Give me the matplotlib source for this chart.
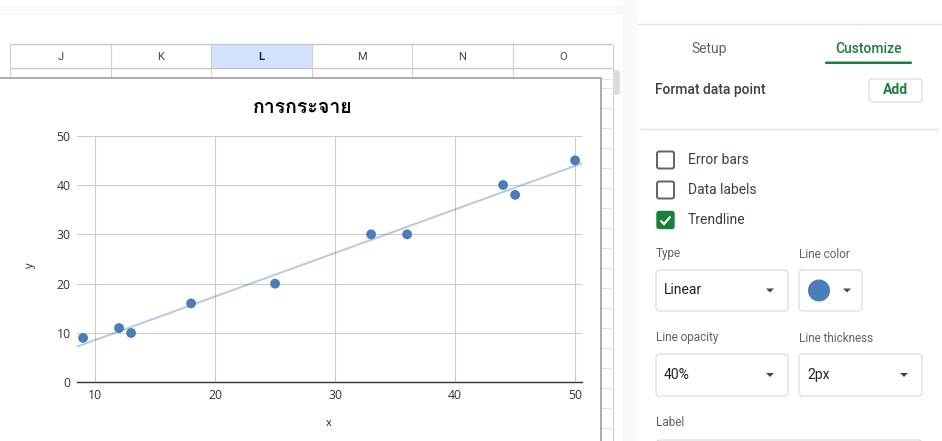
import numpy as np
import matplotlib
matplotlib.use("Agg")
import matplotlib.pyplot as plt
from matplotlib import font_manager
from matplotlib.ft2font import FT2Font
from matplotlib.patches import Rectangle, FancyBboxPatch, Circle, Polygon

# ---- data ----
x_vals = [9, 12, 13, 18, 25, 33, 36, 44, 45, 50]
y_vals = [9, 11, 10, 16, 20, 30, 30, 40, 38, 45]
x_ticks = [10, 20, 30, 40, 50]
y_ticks = [0, 10, 20, 30, 40, 50]
chart_title = "การกระจาย"
x_label = "x"
y_label = "y"

columns = ["J", "K", "L", "M", "N", "O"]
selected_column = "L"
tabs = ["Setup", "Customize"]
options = ["Error bars", "Data labels", "Trendline"]
checked = [False, False, True]
trend_type = "Linear"
trend_opacity = "40%"
trend_thickness = "2px"

W, H = 942, 441
BLUE = "#4a7ebb"
GREEN = "#188038"
TXT = "#3c4043"
SUB = "#5f6368"
BORDER = "#dadce0"


def thai_family():
    """Return an installed family that covers Thai letters, preferring bold faces."""
    best = None
    for fe in font_manager.fontManager.ttflist:
        try:
            cmap = FT2Font(fe.fname).get_charmap()
        except Exception:
            continue
        if all(ord(c) in cmap for c in chart_title):
            if best is None or (fe.weight in ("bold", 700) and best.weight not in ("bold", 700)):
                best = fe
    return best.name if best is not None else "DejaVu Sans"


THAI = thai_family()
UI = "Roboto"
CH = "Open Sans"

fig = plt.figure(figsize=(W / 100, H / 100), dpi=100)
fig.patch.set_facecolor("white")

# full-figure canvas in pixel units for the spreadsheet / sidebar
bg = fig.add_axes([0, 0, 1, 1], zorder=0)
bg.set_xlim(0, W)
bg.set_ylim(H, 0)
bg.axis("off")


def rect(x0, y0, x1, y1, fc="none", ec="none", lw=1.0, r=0, z=1):
    if r:
        p = FancyBboxPatch((x0, y0), x1 - x0, y1 - y0,
                           boxstyle=f"round,pad=0,rounding_size={r}",
                           fc=fc, ec=ec, lw=lw, zorder=z)
    else:
        p = Rectangle((x0, y0), x1 - x0, y1 - y0, fc=fc, ec=ec, lw=lw, zorder=z)
    bg.add_patch(p)


def hline(y, x0, x1, c, lw=0.8, z=2):
    bg.plot([x0, x1], [y, y], color=c, lw=lw, zorder=z, solid_capstyle="butt")


def vline(x, y0, y1, c, lw=0.8, z=2):
    bg.plot([x, x], [y0, y1], color=c, lw=lw, zorder=z, solid_capstyle="butt")


# top toolbar strip
rect(0, 5, 622, 15, fc="#f8f9fa")

# column header row
col_left, col_w = 10, 100.5
hline(44, col_left, 612, "#c7c7c7", lw=1.0)
hline(68, col_left, 612, "#c7c7c7", lw=1.0)
for i, name in enumerate(columns):
    x0 = col_left + i * col_w
    if name == selected_column:
        rect(x0, 44, x0 + col_w, 68, fc="#d3e3fd", z=1)
    vline(x0, 44, 79, "#d0d0d0", lw=0.8)
    bg.text(x0 + col_w / 2, 56.5, name, ha="center", va="center",
            fontsize=8, family=UI,
            color="#1f1f1f" if name == selected_column else "#444746",
            fontweight="bold" if name == selected_column else "normal", zorder=3)
vline(col_left + len(columns) * col_w, 44, H, "#d0d0d0", lw=0.8)
hline(79, 0, 612, "#e2e2e2", lw=0.8)

# cells to the right of the chart
for yy in np.arange(88, H, 20):
    hline(yy, 601, 612, "#e2e2e2", lw=0.8)

# scrollbar thumb
rect(613, 70, 620, 95, fc="#dadce0", r=3, z=3)

# chart container
rect(-5, 78, 601, H + 5, fc="white", ec="#9e9e9e", lw=1.2, z=2)

# gap between sheet and side panel
rect(622, 0, 637, H, fc="#f8f9fa", z=1)

# ---- side panel ----
hline(24, 637, W, "#e3e3e3", lw=1.0)
bg.text(709, 49, tabs[0], ha="center", va="center", fontsize=10, family=UI,
        color=SUB, zorder=3)
bg.text(868, 49, tabs[1], ha="center", va="center", fontsize=10, family=UI,
        color=GREEN, fontweight="medium", zorder=3)
rect(825, 61.5, 912, 64, fc=GREEN, r=1.2, z=3)

bg.text(655, 90, "Format data point", ha="left", va="center", fontsize=10,
        family=UI, color=TXT, fontweight="medium", zorder=3)
rect(869, 79, 922, 102, fc="white", ec=BORDER, lw=0.9, r=3, z=3)
bg.text(895.5, 90.5, "Add", ha="center", va="center", fontsize=10, family=UI,
        color=GREEN, fontweight="bold", zorder=4)
hline(129, 640, 938, "#e3e3e3", lw=1.0)

for i, (label, on) in enumerate(zip(options, checked)):
    cy = 160 + i * 30
    if on:
        rect(657, cy - 8.5, 674, cy + 8.5, fc=GREEN, ec=GREEN, lw=1.0, r=2, z=3)
        bg.plot([660.5, 664, 670.5], [cy + 0.5, cy + 4, cy - 3.5], color="white",
                lw=1.6, zorder=4, solid_capstyle="butt", solid_joinstyle="miter")
    else:
        rect(657, cy - 8.5, 674, cy + 8.5, fc="white", ec="#5f6368", lw=1.4, r=2, z=3)
    bg.text(688, cy, label, ha="left", va="center", fontsize=10, family=UI,
            color=TXT, zorder=3)


def dropdown(x0, x1, y0, y1, text=None, arrow_x=None):
    rect(x0, y0, x1, y1, fc="white", ec=BORDER, lw=0.9, r=4, z=3)
    cy = (y0 + y1) / 2
    if text is not None:
        bg.text(x0 + 8, cy, text, ha="left", va="center", fontsize=10,
                family=UI, color="#202124", zorder=4)
    ax_ = arrow_x if arrow_x is not None else x1 - 18
    bg.add_patch(Polygon([[ax_ - 4, cy - 2], [ax_ + 4, cy - 2], [ax_, cy + 2]],
                         closed=True, fc="#444746", ec="none", zorder=4))


bg.text(656, 254, "Type", ha="left", va="center", fontsize=8.5, family=UI,
        color=SUB, zorder=3)
bg.text(799, 254, "Line color", ha="left", va="center", fontsize=8.5, family=UI,
        color=SUB, zorder=3)
dropdown(656, 788, 270, 311, trend_type)
dropdown(799, 862, 270, 311, None, arrow_x=847)
bg.add_patch(Circle((819, 290.5), 11, fc=BLUE, ec="none", zorder=4))

bg.text(656, 338, "Line opacity", ha="left", va="center", fontsize=8.5,
        family=UI, color=SUB, zorder=3)
bg.text(799, 338, "Line thickness", ha="left", va="center", fontsize=8.5,
        family=UI, color=SUB, zorder=3)
dropdown(656, 788, 354, 396, trend_opacity)
dropdown(799, 922, 354, 396, trend_thickness)

bg.text(656, 423, "Label", ha="left", va="center", fontsize=8.5, family=UI,
        color=SUB, zorder=3)
rect(656, 440, 922, 460, fc="white", ec=BORDER, lw=0.9, r=4, z=3)

# ---- scatter chart ----
px_l, px_r, px_t, px_b = 76.7, 581.7, 135.7, 382.3
ax = fig.add_axes([px_l / W, 1 - px_b / H, (px_r - px_l) / W, (px_b - px_t) / H],
                  zorder=5)
ax.set_facecolor("none")
ax.set_xlim(8.47, 50.55)
ax.set_ylim(0, 50)

# linear trendline from a least-squares fit
slope, intercept = np.polyfit(x_vals, y_vals, 1)
xl = np.array(ax.get_xlim())
ax.plot(xl, slope * xl + intercept, color=BLUE, alpha=0.4, lw=1.44, zorder=2,
        clip_on=True)
ax.scatter(x_vals, y_vals, s=50, color=BLUE, edgecolors="none", zorder=3,
           clip_on=False)

ax.set_xticks(x_ticks)
ax.set_yticks(y_ticks)
ax.grid(True, color="#cccccc", lw=0.75, zorder=0)
ax.set_axisbelow(True)
for side in ("top", "right", "left"):
    ax.spines[side].set_visible(False)
ax.spines["bottom"].set_color("#333333")
ax.spines["bottom"].set_linewidth(1.0)
ax.tick_params(length=0, labelsize=8.8, labelcolor="#333333")
ax.tick_params(axis="y", pad=4.4)
ax.tick_params(axis="x", pad=5.0)
for lab in ax.get_xticklabels() + ax.get_yticklabels():
    lab.set_family(CH)

fig.text(303 / W, 1 - 108 / H, chart_title, ha="center", va="center",
         fontsize=14, fontweight="bold", family=[THAI, "DejaVu Sans"],
         color="#000000")
fig.text(329 / W, 1 - 424 / H, x_label, ha="center", va="center",
         fontsize=8, family=CH, color="#222222")
fig.text(30 / W, 1 - 265 / H, y_label, ha="center", va="center", rotation=90,
         fontsize=8, family=CH, color="#222222")

fig.savefig("out.png", dpi=100, facecolor="white")
